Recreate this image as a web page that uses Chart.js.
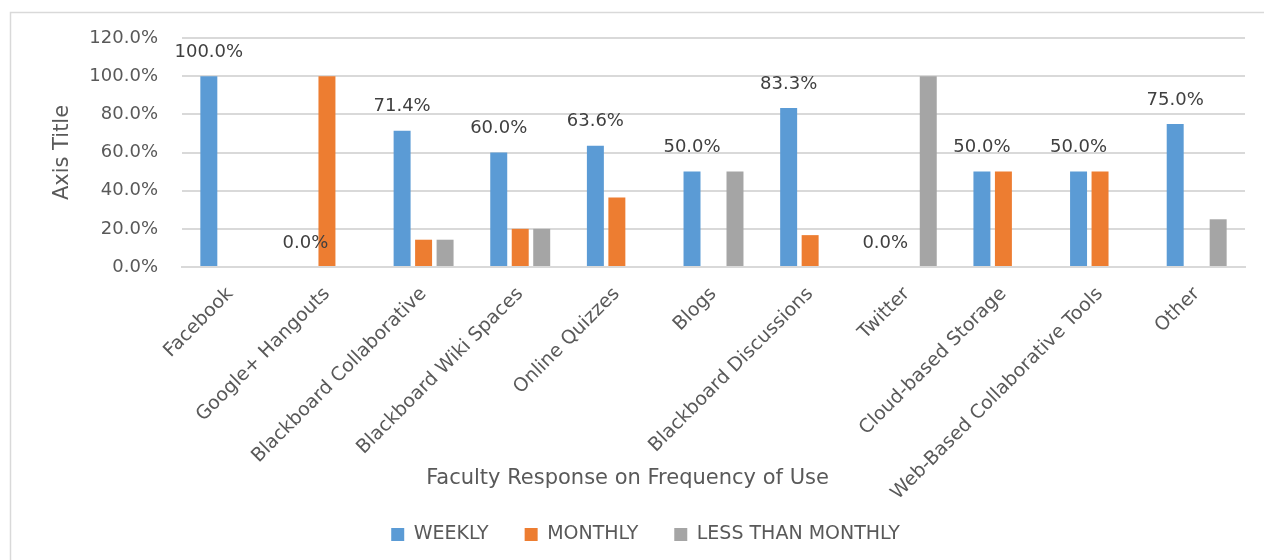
<!DOCTYPE html>
<html>
<head>
<meta charset="utf-8">
<script src="https://cdn.jsdelivr.net/npm/chart.js@4.4.1/dist/chart.umd.min.js"></script>
<style>
html,body{margin:0;padding:0;background:#fff;}
canvas{display:block;}
</style>
</head>
<body>
<canvas id="c" width="1264" height="560"></canvas>
<script>
const categories = ['Facebook', 'Google+ Hangouts', 'Blackboard Collaborative', 'Blackboard Wiki Spaces', 'Online Quizzes', 'Blogs', 'Blackboard Discussions', 'Twitter', 'Cloud-based Storage', 'Web-Based Collaborative Tools', 'Other'];
const weekly = [100.0, 0.0, 71.4, 60.0, 63.6, 50.0, 83.3, 0.0, 50.0, 50.0, 75.0];
const monthly = [0, 100.0, 14.3, 20.0, 36.4, 0, 16.7, 0, 50.0, 50.0, 0];
const lessThanMonthly = [0, 0, 14.3, 20.0, 0, 50.0, 0, 100.0, 0, 0, 25.0];
const seriesNames = ['WEEKLY', 'MONTHLY', 'LESS THAN MONTHLY'];
const seriesColors = ['#5b9bd5', '#ed7d31', '#a5a5a5'];
const yMax = 120;
const yStep = 20;
const xTitle = 'Faculty Response on Frequency of Use';
const yTitle = 'Axis Title';

const FONT = "'DejaVu Sans', sans-serif";

const framePlugin = {
  id: 'frame',
  beforeDraw(chart) {
    const ctx = chart.ctx;
    ctx.save();
    ctx.fillStyle = '#ffffff';
    ctx.fillRect(0, 0, chart.width, chart.height);
    ctx.strokeStyle = '#d9d9d9';
    ctx.lineWidth = 1.5;
    ctx.strokeRect(10.5, 12.5, 1400, 700);
    ctx.restore();
  }
};

const labelPlugin = {
  id: 'weeklyLabels',
  afterDatasetsDraw(chart) {
    const ctx = chart.ctx;
    const meta = chart.getDatasetMeta(0);
    ctx.save();
    ctx.font = "18px " + FONT;
    ctx.fillStyle = '#404040';
    ctx.textAlign = 'center';
    ctx.textBaseline = 'middle';
    meta.data.forEach((el, i) => {
      ctx.fillText(weekly[i].toFixed(1) + '%', el.x, el.y - 24);
    });
    ctx.restore();
  }
};

const layoutTweak = {
  id: 'layoutTweak',
  afterLayout(chart) {
    const t = chart.titleBlock;
    if (t) { t.left = 10; t.right = 1245; t.width = t.right - t.left; }
    // let rotated category labels extend past the reserved axis box (no clipping)
    const x = chart.scales.x;
    if (x) { x.bottom = chart.height; }
  }
};

new Chart(document.getElementById('c'), {
  type: 'bar',
  data: {
    labels: categories,
    datasets: [
      { label: seriesNames[0], data: weekly, backgroundColor: seriesColors[0] },
      { label: seriesNames[1], data: monthly, backgroundColor: seriesColors[1] },
      { label: seriesNames[2], data: lessThanMonthly, backgroundColor: seriesColors[2] }
    ]
  },
  options: {
    responsive: false,
    animation: false,
    devicePixelRatio: 1,
    categoryPercentage: 0.667,
    barPercentage: 0.79,
    layout: { padding: { left: 46, right: 19, top: 38, bottom: 6 } },
    scales: {
      x: {
        grid: { display: false, drawTicks: false },
        border: { display: true, color: '#d9d9d9', width: 2 },
        ticks: {
          color: '#595959',
          font: { family: FONT, size: 19 },
          minRotation: 45,
          maxRotation: 45,
          autoSkip: false,
          padding: 16
        },
        afterFit(scale) { scale.height = 191; }
      },
      y: {
        min: 0,
        max: yMax,
        ticks: {
          stepSize: yStep,
          color: '#595959',
          font: { family: FONT, size: 18 },
          padding: 24,
          callback: v => v.toFixed(1) + '%'
        },
        grid: { color: '#d9d9d9', lineWidth: 2, drawTicks: false },
        border: { display: false },
        title: {
          display: true,
          text: yTitle,
          color: '#595959',
          font: { family: FONT, size: 21 }
        },
        afterFit(scale) { scale.width = 136; }
      }
    },
    plugins: {
      legend: {
        position: 'bottom',
        labels: {
          color: '#595959',
          font: { family: FONT, size: 19 },
          boxWidth: 13,
          boxHeight: 13,
          padding: 36
        }
      },
      title: {
        display: true,
        position: 'bottom',
        weight: 500,
        text: xTitle,
        color: '#595959',
        font: { family: FONT, size: 21, weight: 'normal', lineHeight: 1 },
        padding: { top: 10, bottom: 0 }
      },
      tooltip: { enabled: false }
    }
  },
  plugins: [framePlugin, labelPlugin, layoutTweak]
});
</script>
</body>
</html>
